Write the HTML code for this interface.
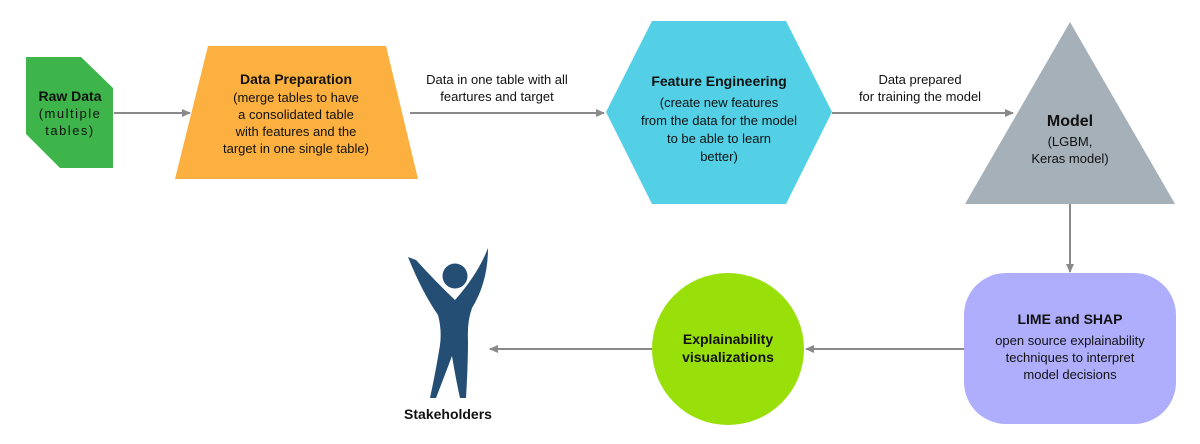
<!DOCTYPE html>
<html><head><meta charset="utf-8"><style>
html,body{margin:0;padding:0;background:#fff;}
svg{display:block;}
text{font-family:"Liberation Sans",sans-serif;fill:#111;}
.b{font-weight:bold;font-size:14px;}
.n{font-size:13px;}
</style></head><body>
<svg width="1200" height="444" viewBox="0 0 1200 444">
<defs><marker id="a" markerWidth="10" markerHeight="10" refX="8" refY="5" orient="auto" markerUnits="userSpaceOnUse"><path d="M0,1 L9,5 L0,9 Z" fill="#8a8a8a"/></marker></defs>
<g stroke="#8a8a8a" stroke-width="2" fill="none">
<line x1="114" y1="113" x2="190" y2="113" marker-end="url(#a)"/>
<line x1="410" y1="113" x2="604" y2="113" marker-end="url(#a)"/>
<line x1="832" y1="113" x2="1013" y2="113" marker-end="url(#a)"/>
<line x1="1070" y1="204" x2="1070" y2="272" marker-end="url(#a)"/>
<line x1="964" y1="349" x2="806" y2="349" marker-end="url(#a)"/>
<line x1="652" y1="349" x2="490" y2="349" marker-end="url(#a)"/>
</g>
<polygon points="26,57 81,57 113,88 113,168 60,168 26,134" fill="#3db54a"/>
<text class="b" x="70" y="101" text-anchor="middle">Raw Data</text>
<text class="n" x="70" y="118" text-anchor="middle" letter-spacing="1.5">(multiple</text>
<text class="n" x="70" y="135" text-anchor="middle" letter-spacing="1.5">tables)</text>
<polygon points="208,46 386,46 418,179 175,179" fill="#fbb040"/>
<text class="b" x="296" y="84" text-anchor="middle">Data Preparation</text>
<text class="n" x="296" y="102" text-anchor="middle">(merge tables to have</text>
<text class="n" x="296" y="119" text-anchor="middle">a consolidated table</text>
<text class="n" x="296" y="136" text-anchor="middle">with features and the</text>
<text class="n" x="296" y="153" text-anchor="middle">target in one single table)</text>
<text class="n" x="497" y="84" text-anchor="middle">Data in one table with all</text>
<text class="n" x="497" y="101" text-anchor="middle">feartures and target</text>
<polygon points="606,112 652,21 786,21 832,112 786,204 652,204" fill="#53d0e6"/>
<text class="b" x="719" y="86" text-anchor="middle">Feature Engineering</text>
<text class="n" x="719" y="107" text-anchor="middle">(create new features</text>
<text class="n" x="719" y="125" text-anchor="middle">from the data for the model</text>
<text class="n" x="719" y="143" text-anchor="middle">to be able to learn</text>
<text class="n" x="719" y="161" text-anchor="middle">better)</text>
<text class="n" x="920" y="84" text-anchor="middle">Data prepared</text>
<text class="n" x="920" y="101" text-anchor="middle">for training the model</text>
<polygon points="1070,22 1175,204 965,204" fill="#a5b0b9"/>
<text x="1070" y="126" text-anchor="middle" font-weight="bold" font-size="16">Model</text>
<text class="n" x="1070" y="146" text-anchor="middle">(LGBM,</text>
<text class="n" x="1070" y="163" text-anchor="middle">Keras model)</text>
<rect x="964" y="273" width="212" height="151" rx="42" fill="#aeaefc"/>
<text class="b" x="1070" y="324" text-anchor="middle">LIME and SHAP</text>
<text class="n" x="1070" y="345" text-anchor="middle">open source explainability</text>
<text class="n" x="1070" y="362" text-anchor="middle">techniques to interpret</text>
<text class="n" x="1070" y="379" text-anchor="middle">model decisions</text>
<circle cx="728" cy="349" r="76" fill="#99e00b"/>
<text class="b" x="728" y="344" text-anchor="middle">Explainability</text>
<text class="b" x="728" y="362" text-anchor="middle">visualizations</text>
<g fill="#244e74">
<circle cx="455" cy="276" r="12.5"/>
<path d="M408,257 Q422,292 438,315 Q442,330 440,345 Q436,370 430,398 L436,398 Q446,372 452,356 Q456,380 460,398 L466,398 Q468,365 468,340 Q467,322 472,308 Q488,282 488,248 Q478,274 455,300 Q436,282 416,260 Z"/>
</g>
<text class="b" x="448" y="419" text-anchor="middle">Stakeholders</text>
</svg>
</body></html>
